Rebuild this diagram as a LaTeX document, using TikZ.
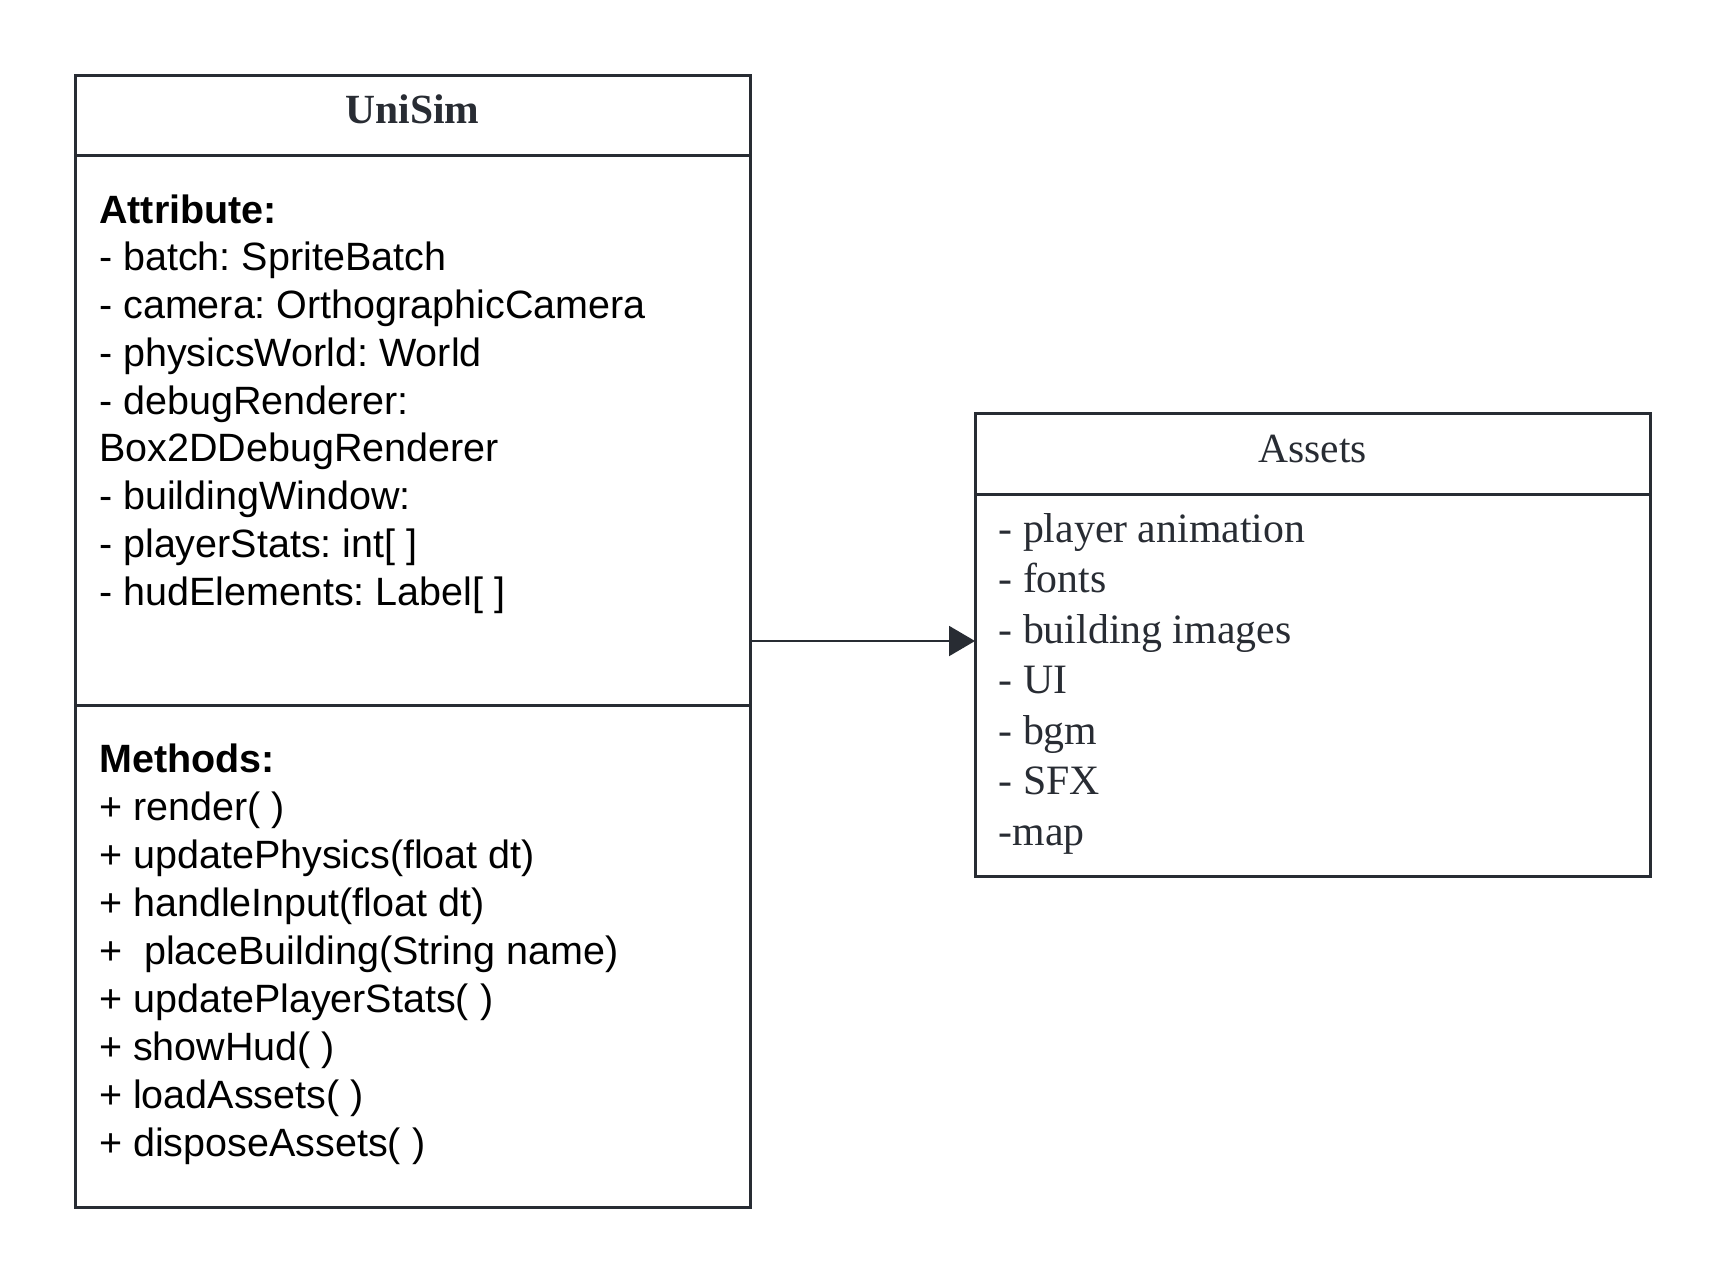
\documentclass[tikz,border=0pt]{standalone}
\usepackage{fontspec}
\setmainfont{Liberation Serif}
\newfontfamily\umlsans{Liberation Sans}
\usetikzlibrary{arrows.meta}
\definecolor{ink}{HTML}{282C33}
\frenchspacing
\begin{document}
\begin{tikzpicture}[x=1pt,y=-1pt,
  box/.style={draw=ink, line width=3pt, inner sep=0pt, outer sep=0pt},
  sepline/.style={draw=ink, line width=3pt},
  title/.style={inner sep=0pt, anchor=base, text=ink, font=\fontsize{41.5}{50}\selectfont},
  sline/.style={inner sep=0pt, anchor=base west, text=black, font=\umlsans\fontsize{39.5}{48}\selectfont},
  aline/.style={inner sep=0pt, anchor=base west, text=ink, font=\fontsize{41.8}{50}\selectfont},
  arr/.style={draw=ink, line width=2pt, -{Triangle[length=26pt,width=30pt]}}]
\path[fill=white, use as bounding box] (0,0) rectangle (1725,1283);
% class boxes
\node[box, minimum width=675pt, minimum height=1132pt] (unisim) at (412.5,641) {};
\node[box, minimum width=675pt, minimum height=463pt] (assets) at (1312.5,644.5) {};
\draw[sepline] (75,155) -- (750,155);
\draw[sepline] (75,705) -- (750,705);
\draw[sepline] (975,494) -- (1650,494);
% titles
\node[title] (unisimtitle) at (412.5,123) {\bfseries UniSim};
\node[title] (assetstitle) at (1312.5,462) {Assets};
% attributes
\node[sline] (attrhead) at (99,223) {\bfseries Attribute:};
\foreach \t [count=\i] in {{- batch: SpriteBatch},{- camera: OrthographicCamera},{- physicsWorld: World},{- debugRenderer:},{Box2DDebugRenderer},{- buildingWindow:},{- playerStats: int[ ]},{- hudElements: Label[ ]}}
  \node[sline] (attr\i) at (99,{223+47.75*\i}) {\t};
% methods
\node[sline] (methhead) at (99,772) {\bfseries Methods:};
\foreach \t [count=\i] in {{+ render( )},{+ updatePhysics(float dt)},{+ handleInput(float dt)},{+\ \ placeBuilding(String name)},{+ updatePlayerStats( )},{+ showHud( )},{+ loadAssets( )},{+ disposeAssets( )}}
  \node[sline] (meth\i) at (99,{772+48*\i}) {\t};
% assets list
\foreach \t [count=\i] in {{- player animation},{- fonts},{- building images},{- UI},{- bgm},{- SFX},{-map}}
  \node[aline] (asset\i) at (998.5,{542+50.5*(\i-1)}) {\t};
% connector
\draw[arr] (unisim.east) -- (unisim.east -| assets.west);
\end{tikzpicture}
\end{document}
